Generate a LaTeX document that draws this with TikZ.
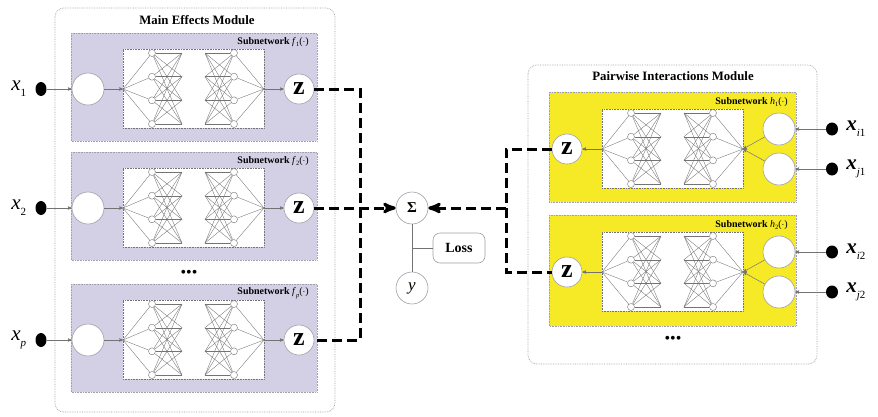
\documentclass[tikz,border=0pt]{standalone}
\usepackage{fontspec}
\setmainfont{Liberation Serif}
\usepackage{tikz}
\usetikzlibrary{shapes.geometric}
\usetikzlibrary{positioning}
\usetikzlibrary{arrows}

\definecolor{lavender}{RGB}{211,208,229}
\definecolor{netyellow}{RGB}{246,234,38}
\definecolor{linegray}{RGB}{115,115,115}
\definecolor{framegray}{RGB}{160,160,172}

% small network drawn in a white box: #1 name prefix, #2 left, #3 top
\newcommand{\subnet}[3]{%
	\node[net box] (#1box) at (#2+70.5,#3+39.5) {};
	\coordinate (#1l) at (#2,#3+40);
	\coordinate (#1r) at (#2+141,#3+40);
	\foreach \i in {1,...,4} {
		\pgfmathsetmacro\yy{#3+4+23.67*(\i-1)}
		\node[net circ] (#1a\i) at (#2+29,\yy) {};
		\coordinate (#1b\i) at (#2+59,\yy);
		\coordinate (#1c\i) at (#2+82,\yy);
		\node[net circ] (#1d\i) at (#2+111,\yy) {};
	}
	\foreach \i in {1,...,4} {
		\draw[net line] (#1l) -- (#1a\i);
		\draw[net line] (#1d\i) -- (#1r);
		\foreach \j in {1,...,4} {
			\draw[net line] (#1a\i) -- (#1b\j);
			\draw[net line] (#1c\i) -- (#1d\j);
		}
	}
}
\newcommand{\xlab}[1]{\textit{x}\raisebox{-0.3em}{\fontsize{11}{11}\selectfont #1}}
\newcommand{\bxlab}[1]{\textbf{\textit{x}}\raisebox{-0.3em}{\fontsize{11}{11}\selectfont #1}}
\newcommand{\fsub}[2]{\textit{#1}\raisebox{-0.25em}{\fontsize{6.5}{7}\selectfont #2}($\cdot$)}

\begin{document}
\begin{tikzpicture}[x=1pt,y=-1pt,>=stealth',
		module box/.style={draw=framegray,densely dotted,rounded corners=9pt,fill=white,line width=0.7pt},
		main box/.style={draw=framegray,densely dotted,fill=lavender,line width=0.6pt},
		pair box/.style={draw=framegray,densely dotted,fill=netyellow,line width=0.6pt},
		net box/.style={draw=linegray,densely dotted,fill=white,minimum width=141pt,minimum height=79pt,inner sep=0pt,line width=0.6pt},
		net circ/.style={circle,draw=linegray,fill=white,minimum size=7pt,inner sep=0pt,line width=0.4pt},
		net line/.style={draw=linegray,line width=0.35pt},
		in node/.style={circle,draw=framegray,fill=white,minimum size=32pt,inner sep=0pt,line width=0.6pt},
		z node/.style={circle,draw=framegray,fill=white,minimum size=30pt,inner sep=0pt,line width=0.6pt,font=\bfseries\fontsize{26}{26}\selectfont},
		sum node/.style={circle,draw=framegray,fill=white,minimum size=32pt,inner sep=0pt,line width=0.6pt},
		loss node/.style={draw=framegray,fill=white,rounded corners=7pt,minimum width=52pt,minimum height=30pt,line width=0.6pt,font=\bfseries\fontsize{14}{14}\selectfont},
		dot node/.style={ellipse,fill=black,minimum width=11pt,minimum height=14pt,inner sep=0pt},
		title/.style={font=\bfseries\fontsize{12.8}{14}\selectfont},
		sub label/.style={anchor=east,inner sep=0pt,font=\fontsize{10}{11}\selectfont},
		in label/.style={inner sep=1pt,font=\fontsize{21}{21}\selectfont},
		more/.style={font=\fontsize{16}{16}\selectfont},
		flow/.style={->,draw=linegray,line width=0.5pt},
		plain/.style={draw=linegray,line width=0.6pt},
		dash flow/.style={line width=3pt,dash pattern=on 10pt off 5pt}]
	\useasboundingbox (0,0) rectangle (878,416);
	
	% modules
	\draw[module box] (55,8) rectangle (335,412);
	\node[title] (mtitle) at (197,20) {Main Effects Module};
	\draw[module box] (528,65) rectangle (817,364);
	\node[title] (ptitle) at (673,76) {Pairwise Interactions Module};
	
	% main effects
	\draw[main box] (71,33) rectangle (317,141);
	\draw[main box] (71,152) rectangle (317,260);
	\draw[main box] (71,284) rectangle (317,392);
	\subnet{fa}{123}{49}
	\subnet{fb}{123}{168}
	\subnet{fc}{123}{300}
	\node[sub label] (fla) at (309,42) {\textbf{Subnetwork} \fsub{f}{1}};
	\node[sub label] (flb) at (309,161) {\textbf{Subnetwork} \fsub{f}{2}};
	\node[sub label] (flc) at (309,293) {\textbf{Subnetwork} \fsub{f}{\textit{p}}};
	
	\node[dot node] (d1) at (41,89) {};
	\node[dot node] (d2) at (41,208) {};
	\node[dot node] (d3) at (41,340) {};
	\node[in label] (lx1) [left=8pt of d1] {\xlab{1}};
	\node[in label] (lx2) [left=8pt of d2] {\xlab{2}};
	\node[in label] (lx3) [left=8pt of d3] {\xlab{\textit{p}}};
	\node[in node] (i1) at (88,89) {};
	\node[in node] (i2) at (88,208) {};
	\node[in node] (i3) at (88,340) {};
	\node[z node] (z1) at (299,89) {z};
	\node[z node] (z2) at (299,208) {z};
	\node[z node] (z3) at (299,340) {z};
	\node[more] (mdots) at (189,274) {•••};
	
	\draw[flow] (d1) -- (i1);
	\draw[flow] (i1) -- (fal);
	\draw[flow] (far) -- (z1);
	\draw[flow] (d2) -- (i2);
	\draw[flow] (i2) -- (fbl);
	\draw[flow] (fbr) -- (z2);
	\draw[flow] (d3) -- (i3);
	\draw[flow] (i3) -- (fcl);
	\draw[flow] (fcr) -- (z3);
	
	% pairwise interactions
	\draw[pair box] (549,92) rectangle (796,202);
	\draw[pair box] (549,215) rectangle (796,326);
	\subnet{ha}{602}{109}
	\subnet{hb}{602}{232}
	\node[sub label] (hla) at (788,102) {\textbf{Subnetwork} \fsub{h}{1}};
	\node[sub label] (hlb) at (788,225) {\textbf{Subnetwork} \fsub{h}{2}};
	
	\node[z node] (zr1) at (567,149) {z};
	\node[z node] (zr2) at (567,272) {z};
	\node[in node] (ci1) at (779,129) {};
	\node[in node] (cj1) at (779,169) {};
	\node[in node] (ci2) at (779,252) {};
	\node[in node] (cj2) at (779,292) {};
	\node[dot node, minimum width=12pt, minimum height=13pt] (di1) at (832,129) {};
	\node[dot node, minimum width=12pt, minimum height=13pt] (dj1) at (832,169) {};
	\node[dot node, minimum width=12pt, minimum height=13pt] (di2) at (832,252) {};
	\node[dot node, minimum width=12pt, minimum height=13pt] (dj2) at (832,292) {};
	\node[in label] (lxi1) [right=7pt of di1] {\bxlab{\textit{i}1}};
	\node[in label] (lxj1) [right=7pt of dj1] {\bxlab{\textit{j}1}};
	\node[in label] (lxi2) [right=7pt of di2] {\bxlab{\textit{i}2}};
	\node[in label] (lxj2) [right=7pt of dj2] {\bxlab{\textit{j}2}};
	\node[more] (pdots) at (673,340) {•••};
	
	\draw[flow] (di1) -- (ci1);
	\draw[flow] (dj1) -- (cj1);
	\draw[flow] (ci1) -- (har);
	\draw[flow] (cj1) -- (har);
	\draw[flow] (hal) -- (zr1);
	\draw[flow] (di2) -- (ci2);
	\draw[flow] (dj2) -- (cj2);
	\draw[flow] (ci2) -- (hbr);
	\draw[flow] (cj2) -- (hbr);
	\draw[flow] (hbl) -- (zr2);
	
	% sum, target and loss
	\node[sum node, font=\bfseries\fontsize{15}{15}\selectfont] (sum) at (412,208) {Σ};
	\node[sum node, font=\itshape\fontsize{17}{17}\selectfont] (yy) at (412,288) {y};
	\node[loss node] (loss) at (459,248) {Loss};
	\draw[plain] (sum) -- (yy);
	\draw[plain] (sum |- loss.west) -- (loss);
	
	\coordinate (jl) at (360,208);
	\coordinate (jr) at (506,208);
	\draw[dash flow] (z1) -| (jl) |- (z3);
	\draw[dash flow,->] (z2) -- (sum);
	\draw[dash flow] (zr1) -| (jr) |- (zr2);
	\draw[dash flow,->] (jr) -- (sum);
\end{tikzpicture}
\end{document}
